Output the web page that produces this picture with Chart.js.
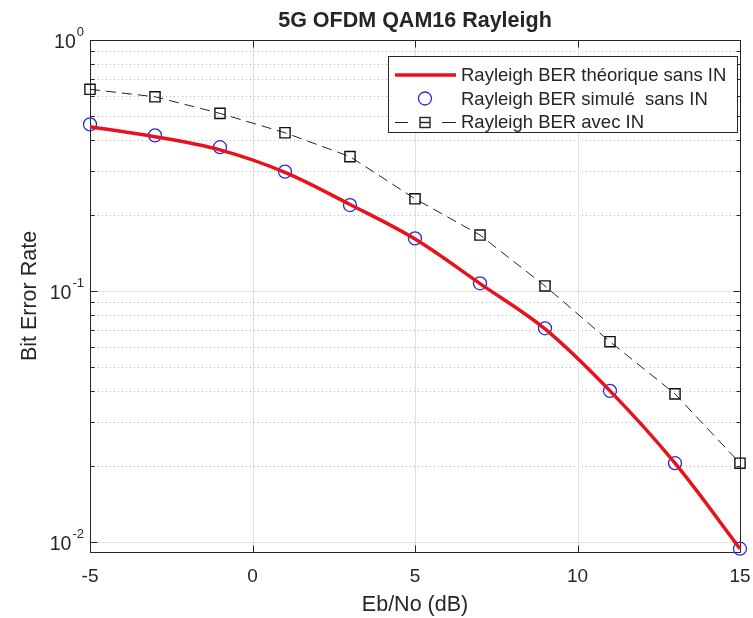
<!DOCTYPE html>
<html><head><meta charset="utf-8">
<script src="https://cdn.jsdelivr.net/npm/chart.js@4.4.0/dist/chart.umd.min.js"></script>
<style>html,body{margin:0;padding:0;background:#fff}#wrap{width:753px;height:618px;position:relative}</style>
</head><body><div id="wrap"><canvas id="c" width="753" height="618"></canvas></div>
<script>
const ebno = [-5, -3, -1, 1, 3, 5, 7, 9, 11, 13, 15];
const berTheo = [0.451, 0.412, 0.365, 0.297, 0.221, 0.161, 0.107, 0.0706, 0.0400, 0.0206, 0.0094];
const berSim = [0.461, 0.417, 0.374, 0.299, 0.220, 0.162, 0.1073, 0.0710, 0.0400, 0.0206, 0.0094];
const berIN = [0.636, 0.594, 0.510, 0.427, 0.343, 0.233, 0.167, 0.1047, 0.0628, 0.0389, 0.0206];
const xTicks = [-5, 0, 5, 10, 15];
const yDecadeExp = [-2, -1, 0];
const titleText = '5G OFDM QAM16 Rayleigh';
const xLabel = 'Eb/No (dB)';
const yLabel = 'Bit Error Rate';
const seriesLabels = ['Rayleigh BER théorique sans IN', 'Rayleigh BER simulé  sans IN', 'Rayleigh BER avec IN'];

const FONT = '"Liberation Sans", Arial, Helvetica, sans-serif';
const pts = arr => ebno.map((x, i) => ({x: x, y: arr[i]}));

const decorPlugin = {
  id: 'decor',
  beforeDatasetsDraw(chart) {
    const {ctx, chartArea: a, scales: {x, y}} = chart;
    ctx.save();
    ctx.lineWidth = 1;
    for (let e = -3; e <= 0; e++) {
      for (let m = 2; m <= 9; m++) {
        const v = m * Math.pow(10, e);
        if (v < y.min || v > y.max) continue;
        const py = Math.round(y.getPixelForValue(v)) + 0.5;
        ctx.strokeStyle = '#b4b4b4';
        ctx.setLineDash([1, 3]);
        ctx.beginPath(); ctx.moveTo(a.left, py); ctx.lineTo(a.right, py); ctx.stroke();
      }
    }
    ctx.setLineDash([]);
    ctx.strokeStyle = '#e0e0e0';
    yDecadeExp.forEach(e => {
      const py = Math.round(y.getPixelForValue(Math.pow(10, e))) + 0.5;
      ctx.beginPath(); ctx.moveTo(a.left, py); ctx.lineTo(a.right, py); ctx.stroke();
    });
    xTicks.forEach(v => {
      const px = Math.round(x.getPixelForValue(v)) + 0.5;
      ctx.beginPath(); ctx.moveTo(px, a.top); ctx.lineTo(px, a.bottom); ctx.stroke();
    });
    ctx.strokeStyle = '#262626';
    ctx.lineWidth = 1;
    const L = Math.round(a.left) + 0.5, R = Math.round(a.right) + 0.5, T = Math.round(a.top) + 0.5, B = Math.round(a.bottom) + 0.5;
    ctx.strokeRect(L, T, R - L, B - T);
    ctx.beginPath();
    xTicks.forEach(v => {
      const px = Math.round(x.getPixelForValue(v)) + 0.5;
      ctx.moveTo(px, B); ctx.lineTo(px, B - 7);
      ctx.moveTo(px, T); ctx.lineTo(px, T + 7);
    });
    for (let e = -3; e <= 0; e++) {
      for (let m = 1; m <= 9; m++) {
        const v = m * Math.pow(10, e);
        if (v < y.min || v > y.max) continue;
        const py = Math.round(y.getPixelForValue(v)) + 0.5;
        const len = m === 1 ? 7 : 4;
        ctx.moveTo(L, py); ctx.lineTo(L + len, py);
        ctx.moveTo(R, py); ctx.lineTo(R - len, py);
      }
    }
    ctx.stroke();
    ctx.restore();
  },
  afterDatasetsDraw(chart) {
    const {ctx, chartArea: a, scales: {x, y}} = chart;
    ctx.save();
    ctx.fillStyle = '#262626';
    ctx.font = 'bold 21.5px ' + FONT;
    ctx.textAlign = 'center'; ctx.textBaseline = 'alphabetic';
    ctx.fillText(titleText, (a.left + a.right) / 2, 27);
    ctx.font = '19px ' + FONT;
    ctx.textBaseline = 'middle';
    xTicks.forEach(v => ctx.fillText(String(v), x.getPixelForValue(v), 577));
    yDecadeExp.forEach(e => {
      const py = y.getPixelForValue(Math.pow(10, e));
      const sup = String(e);
      ctx.font = '13px ' + FONT;
      ctx.textAlign = 'right'; ctx.textBaseline = 'middle';
      const supRight = a.left - 6;
      ctx.fillText(sup, supRight, py - 8);
      const sw = ctx.measureText(sup).width;
      ctx.font = '19.5px ' + FONT;
      ctx.fillText('10', supRight - sw - 1, py + 3);
    });
    ctx.font = '21.5px ' + FONT;
    ctx.textAlign = 'center'; ctx.textBaseline = 'middle';
    ctx.fillText(xLabel, (a.left + a.right) / 2, 605);
    ctx.save();
    ctx.translate(30, (a.top + a.bottom) / 2);
    ctx.rotate(-Math.PI / 2);
    ctx.fillText(yLabel, 0, 0);
    ctx.restore();
    const bx = 388.5, by = 56.5, bw = 349, bh = 76;
    ctx.fillStyle = '#ffffff';
    ctx.fillRect(bx, by, bw, bh);
    ctx.strokeStyle = '#262626'; ctx.lineWidth = 1;
    ctx.strokeRect(bx, by, bw, bh);
    const rows = [75, 98.5, 122];
    const ds = chart.data.datasets;
    ctx.strokeStyle = ds[0].borderColor; ctx.lineWidth = ds[0].borderWidth;
    ctx.beginPath(); ctx.moveTo(395, rows[0]); ctx.lineTo(456, rows[0]); ctx.stroke();
    ctx.strokeStyle = ds[1].pointBorderColor; ctx.lineWidth = ds[1].pointBorderWidth;
    ctx.beginPath(); ctx.arc(425, rows[1], ds[1].pointRadius, 0, Math.PI * 2); ctx.stroke();
    ctx.strokeStyle = ds[2].borderColor; ctx.lineWidth = 1;
    const r3 = Math.round(rows[2]) + 0.5;
    ctx.beginPath(); ctx.moveTo(395, r3); ctx.lineTo(408, r3);
    ctx.moveTo(442, r3); ctx.lineTo(456, r3); ctx.stroke();
    ctx.lineWidth = ds[2].pointBorderWidth;
    ctx.strokeRect(420, r3 - 5, 10, 10);
    ctx.beginPath(); ctx.moveTo(420, r3); ctx.lineTo(430, r3); ctx.stroke();
    ctx.fillStyle = '#262626';
    ctx.font = '18.5px ' + FONT;
    ctx.textAlign = 'left'; ctx.textBaseline = 'middle';
    seriesLabels.forEach((t, i) => ctx.fillText(t, 461, rows[i] + 1));
    ctx.restore();
  }
};

new Chart(document.getElementById('c'), {
  type: 'line',
  data: {
    datasets: [
      {label: seriesLabels[0], data: pts(berTheo), borderColor: '#e8121a', borderWidth: 3.5,
       pointRadius: 0, tension: 0.35, fill: false, clip: false},
      {label: seriesLabels[1], data: pts(berSim), showLine: false, pointStyle: 'circle',
       pointRadius: 6.5, pointBorderColor: '#2a2ae0', pointBorderWidth: 1.3,
       pointBackgroundColor: 'rgba(0,0,0,0)', borderColor: '#2a2ae0', clip: false},
      {label: seriesLabels[2], data: pts(berIN), borderColor: '#222222', borderWidth: 1,
       borderDash: [10, 6], pointStyle: 'rect', pointRadius: 7.2, pointBorderColor: '#111111',
       pointBorderWidth: 1.4, pointBackgroundColor: 'rgba(0,0,0,0)', tension: 0, fill: false, clip: false}
    ]
  },
  options: {
    responsive: false, animation: false, devicePixelRatio: 1,
    layout: {padding: {left: 90, top: 40, right: 13, bottom: 66}},
    plugins: {legend: {display: false}, title: {display: false}, tooltip: {enabled: false}},
    scales: {
      x: {type: 'linear', min: -5, max: 15, display: false},
      y: {type: 'logarithmic', min: 0.00912, max: 1, display: false}
    }
  },
  plugins: [decorPlugin]
});
</script>
</body></html>
